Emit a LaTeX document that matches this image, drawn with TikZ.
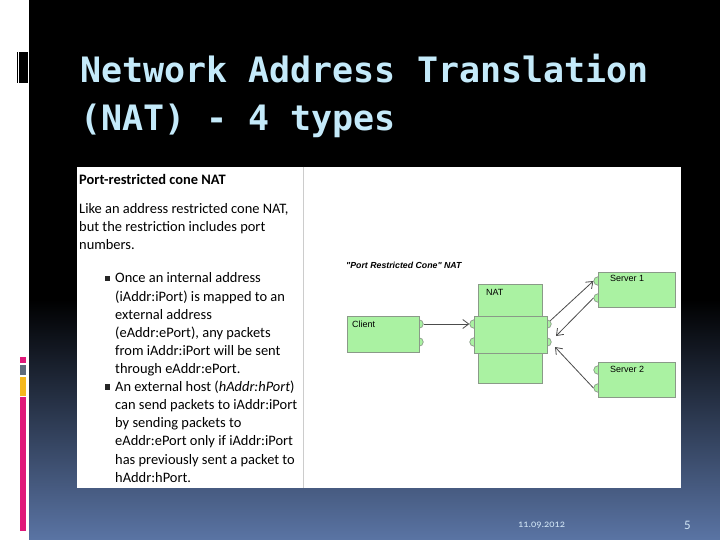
\documentclass[tikz,border=0pt]{standalone}
\usepackage{fontspec}
\setmainfont{Carlito}
\newfontfamily\titlefont{DejaVu Sans Mono}
\newfontfamily\diagfont{Liberation Sans}
\usetikzlibrary{arrows.meta}
\definecolor{titlecol}{HTML}{C4EAFA}
\definecolor{boxgreen}{HTML}{AAF2A2}
\definecolor{boxline}{HTML}{8A9A88}
\definecolor{bgblue}{HTML}{5A74A4}
\definecolor{barpink}{HTML}{E0197A}
\definecolor{bargray}{HTML}{5F6B7C}
\definecolor{baryellow}{HTML}{F5B81E}
\definecolor{footcol}{HTML}{D2E6F6}
\begin{document}
\begin{tikzpicture}[x=1bp,y=-1bp,
  titletext/.style={anchor=base west,inner sep=0,text=titlecol,font=\titlefont\bfseries\fontsize{35.1}{40}\selectfont},
  bodytext/.style={anchor=base west,inner sep=0,font=\fontsize{14.5}{18}\selectfont},
  bullet/.style={fill=black!85,minimum size=5.5bp,inner sep=0},
  gbox/.style={fill=boxgreen,draw=boxline,line width=0.7bp},
  port/.style={circle,fill=boxgreen,draw=boxline,line width=0.7bp,minimum size=8.5bp,inner sep=0},
  dlabel/.style={anchor=base west,inner sep=0,font=\diagfont\fontsize{9}{10}\selectfont},
  link/.style={draw=black!70,line width=0.8bp,-{Straight Barb[length=6bp,width=9bp]}}]
\useasboundingbox (0,0) rectangle (720,540);
% background
\fill[white] (0,0) rectangle (720,540);
\fill[black] (29,0) rectangle (720,300);
\shade[top color=black,bottom color=bgblue] (29,299.5) rectangle (720,540);
% left decorations
\fill[black] (17,52) rectangle (18,83);
\fill[black] (19,52) rectangle (28,83);
\fill[barpink] (20,357) rectangle (26,363);
\fill[bargray] (20,365) rectangle (26,375);
\fill[baryellow] (20,377) rectangle (26,396);
\fill[barpink] (20,397) rectangle (26,531);
% title
\node[titletext] (t1) at (80,83) {Network Address Translation};
\node[titletext] (t2) at (80,131) {(NAT) - 4 types};
% content panel
\fill[white] (77,167) rectangle (681,488);
\draw[black!20,line width=0.8bp] (303,167) -- (303,488);
% left text
\node[bodytext,font=\bfseries\fontsize{14.5}{18}\selectfont] (h) at (79,185) {Port-restricted cone NAT};
\foreach \t [count=\i] in {{Like an address restricted cone NAT,},{but the restriction includes port},{numbers.}}
  \node[bodytext] (p\i) at (79,{214+18*(\i-1)}) {\t};
\foreach \t [count=\i] in {{Once an internal address},{(iAddr:iPort) is mapped to an},{external address},{(eAddr:ePort), any packets},{from iAddr:iPort will be sent},{through eAddr:ePort.},{An external host (\textit{hAddr:hPort})},{can send packets to iAddr:iPort},{by sending packets to},{eAddr:ePort only if iAddr:iPort},{has previously sent a packet to},{hAddr:hPort.}}
  \node[bodytext] (b\i) at (115,{283+18.1*(\i-1)}) {\t};
\node[bullet] (u1) at (107.5,278.5) {};
\node[bullet] (u2) at (107.5,387.1) {};
% diagram
\node[dlabel,font=\diagfont\bfseries\itshape\fontsize{8.8}{10}\selectfont] (dt) at (346,269) {{\char34}Port Restricted Cone{\char34} NAT};
% ports
\node[port] (cp1) at (419,324) {};
\node[port] (cp2) at (419,342) {};
\draw[gbox] (347,316) rectangle (419,352);
\node[dlabel] (cl) at (352,327) {Client};
\draw[gbox] (478,284) rectangle (542,383);
\node[port] (nl1) at (474,324) {};
\node[port] (nl2) at (474,342) {};
\node[port] (nr1) at (547,324) {};
\node[port] (nr2) at (547,342) {};
\draw[gbox] (474,316) rectangle (547,353);
\node[dlabel] (nl) at (486,295) {NAT};
\node[port] (s1p1) at (598,281) {};
\node[port] (s1p2) at (598,298) {};
\draw[gbox] (598,272) rectangle (675,307);
\node[dlabel] (s1l) at (610,282) {Server 1};
\node[port] (s2p1) at (598,370) {};
\node[port] (s2p2) at (598,388) {};
\draw[gbox] (598,362) rectangle (675,397);
\node[dlabel] (s2l) at (610,372) {Server 2};
% connectors
\coordinate (tipA) at (556,336);
\coordinate (tipB) at (555,347);
\draw[link] (cp1.east) -- (nl1.west);
\draw[link] (nr1.north east) -- (s1p1.west);
\draw[link] (s1p2.west) -- (tipA);
\draw[link] (s2p2.west) -- (tipB);
% footer
\node[anchor=base west,inner sep=0,text=footcol,font=\fontsize{10.3}{12}\selectfont\addfontfeatures{Numbers=OldStyle}] (date) at (518,527) {11.09.2012};
\node[anchor=base west,inner sep=0,text=footcol,font=\fontsize{13}{14}\selectfont] (pg) at (684,529) {5};
\end{tikzpicture}
\end{document}
